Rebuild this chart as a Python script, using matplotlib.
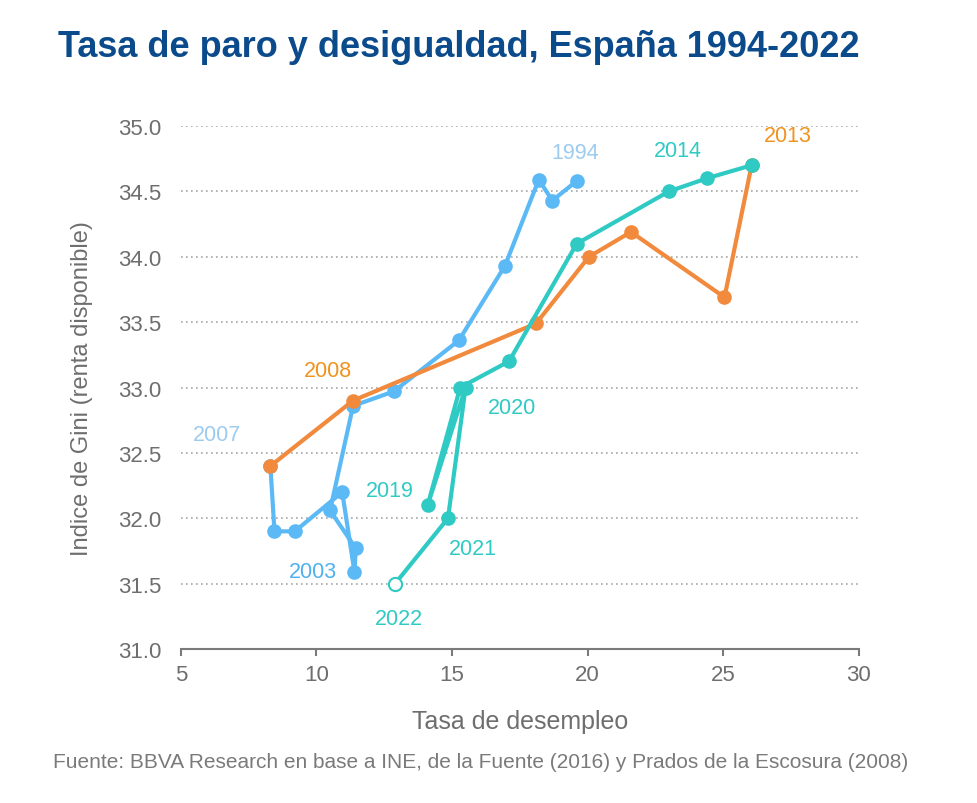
import matplotlib.pyplot as plt

plt.rcParams['font.family'] = ['Liberation Sans', 'DejaVu Sans']

# 1994-2007 (blue)
x_blue = [19.6, 18.7, 18.2, 16.95, 15.25, 12.85, 11.35, 10.5, 11.45, 11.4, 10.95, 9.2, 8.45, 8.3]
y_blue = [34.58, 34.43, 34.59, 33.93, 33.36, 32.97, 32.86, 32.06, 31.77, 31.59, 32.2, 31.9, 31.9, 32.4]

# 2007-2013 (orange)
x_orange = [8.3, 11.35, 18.1, 20.05, 21.6, 25.05, 26.05]
y_orange = [32.4, 32.9, 33.49, 34.0, 34.19, 33.69, 34.7]

# 2013-2022 (teal)
x_teal = [26.05, 24.4, 23.0, 19.6, 17.1, 15.3, 14.1, 15.5, 14.85, 12.9]
y_teal = [34.7, 34.6, 34.5, 34.1, 33.2, 33.0, 32.1, 33.0, 32.0, 31.5]

yticks = [31.0, 31.5, 32.0, 32.5, 33.0, 33.5, 34.0, 34.5, 35.0]
xticks = [5, 10, 15, 20, 25, 30]

blue = '#5BB9F6'
orange = '#F28A3D'
teal = '#2FCAC3'
gray = '#7A7A7A'

fig = plt.figure(figsize=(9.78, 8.04), dpi=100)
ax = fig.add_axes([0.185, 0.1915, 0.693, 0.6505])

ax.plot(x_blue, y_blue, color=blue, lw=3, marker='o', ms=9.5, zorder=3)
ax.plot(x_orange, y_orange, color=orange, lw=3, marker='o', ms=9.5, zorder=4)
ax.plot(x_teal[:-1], y_teal[:-1], color=teal, lw=3, marker='o', ms=9.5, zorder=5)
ax.plot(x_teal[-2:], y_teal[-2:], color=teal, lw=3, zorder=5)
ax.plot(x_teal[-1:], y_teal[-1:], ls='none', marker='o', ms=9.5,
        mfc='white', mec=teal, mew=1.5, zorder=6)

lbl = dict(fontsize=15.5, ha='center', va='center')
ax.text(19.56, 34.80, '1994', color='#9CCBF0', **lbl)
ax.text(6.33, 32.64, '2007', color='#9CCBF0', **lbl)
ax.text(9.87, 31.59, '2003', color='#4FB1EE', **lbl)
ax.text(10.42, 33.13, '2008', color='#F0921E', **lbl)
ax.text(27.38, 34.93, '2013', color='#F0921E', **lbl)
ax.text(23.33, 34.81, '2014', color=teal, **lbl)
ax.text(17.20, 32.85, '2020', color=teal, **lbl)
ax.text(12.71, 32.21, '2019', color=teal, **lbl)
ax.text(15.77, 31.77, '2021', color=teal, **lbl)
ax.text(13.04, 31.23, '2022', color=teal, **lbl)

ax.set_xlim(5, 30)
ax.set_ylim(31, 35)
ax.set_xticks(xticks)
ax.set_yticks(yticks)
ax.set_yticklabels([f'{v:.1f}' for v in yticks])
ax.tick_params(axis='both', labelsize=16, colors='#6E6E6E')
ax.tick_params(axis='y', length=0, pad=14)
ax.tick_params(axis='x', length=5, width=1.5, color=gray, pad=6)
for v in yticks[1:]:
    ax.axhline(v, color='#A6A6A6', lw=1.2, ls=(0, (1, 2)), zorder=1)
for s in ['top', 'right', 'left']:
    ax.spines[s].set_visible(False)
ax.spines['bottom'].set_color(gray)
ax.spines['bottom'].set_linewidth(1.5)

ax.set_xlabel('Tasa de desempleo', fontsize=18, color='#6E6E6E', labelpad=17)
ax.set_ylabel('Indice de Gini (renta disponible)', fontsize=17, color='#6E6E6E', labelpad=18)

fig.text(0.059, 0.941, 'Tasa de paro y desigualdad, España 1994-2022', fontsize=26,
         fontweight='bold', color='#0B4A8B', va='center')
fig.text(0.054, 0.051, 'Fuente: BBVA Research en base a INE, de la Fuente (2016) y Prados de la Escosura (2008)',
         fontsize=15, color='#7A7A7A', va='center')

plt.savefig('out.png', dpi=100)
